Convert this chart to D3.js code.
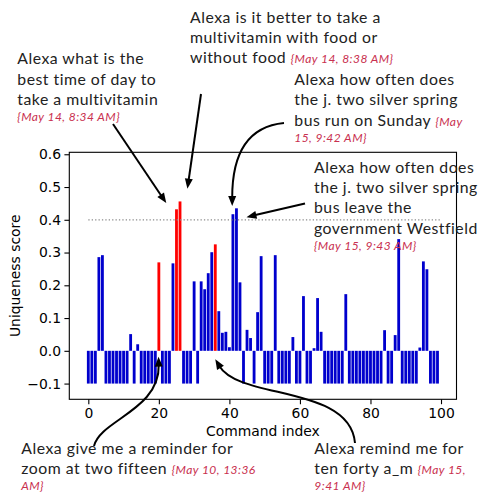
<!DOCTYPE html>
<html>
<head>
<meta charset="utf-8">
<script src="https://cdn.jsdelivr.net/npm/d3@7"></script>
<style>
  html, body { margin: 0; padding: 0; background: #fff; }
  svg { display: block; }
</style>
</head>
<body>
<svg id="chart" width="486" height="499"></svg>
<script>
// Uniqueness score of each voice command, in the order the commands were issued
const scores = [
  -0.1, -0.1, -0.1, 0.286, 0.292, -0.1, -0.1, -0.1, -0.1, -0.1,
  -0.1, -0.1, 0.051, -0.1, 0.020, -0.1, -0.1, -0.1, -0.1, -0.1,
  0.270, -0.1, -0.1, -0.1, 0.267, 0.432, 0.456, -0.1, -0.1, -0.1,
  0.212, -0.1, 0.212, 0.188, 0.237, 0.301, 0.325, 0.121, 0.055, 0.058,
  0.011, 0.417, 0.435, 0.209, -0.1, 0.064, 0.039, -0.1, 0.118, 0.289,
  -0.1, -0.1, -0.1, 0.292, -0.1, -0.1, -0.1, -0.1, 0.042, -0.1,
  -0.1, 0.167, -0.1, -0.1, 0.008, 0.161, 0.058, -0.1, -0.1, -0.1,
  -0.1, -0.1, -0.1, 0.173, -0.1, -0.1, -0.1, -0.1, -0.1, -0.1,
  -0.1, -0.1, -0.1, -0.1, 0.063, -0.1, -0.1, 0.048, 0.341, -0.1,
  -0.1, -0.1, -0.1, -0.1, 0.010, 0.273, 0.249, -0.1, -0.1, -0.1
];
// Commands singled out in red
const highlighted = [20, 25, 26, 36];
const threshold = 0.4;

const xTickValues = [0, 20, 40, 60, 80, 100];
const yTickValues = [-0.1, 0.0, 0.1, 0.2, 0.3, 0.4, 0.5, 0.6];
const xLabel = "Command index";
const yLabel = "Uniqueness score";

// Annotation texts: each line is [command text, timestamp]
const noteLines = [
  [["Alexa what is the", ""], ["best time of day to", ""], ["take a multivitamin", ""], ["", "{May 14, 8:34 AM}"]],
  [["Alexa is it better to take a", ""], ["multivitamin with food or", ""], ["without food ", "{May 14, 8:38 AM}"]],
  [["Alexa how often does", ""], ["the j. two silver spring", ""], ["bus run on Sunday ", "{May"], ["", "15, 9:42 AM}"]],
  [["Alexa how often does", ""], ["the j. two silver spring", ""], ["bus leave the", ""], ["government Westfield", ""], ["", "{May 15, 9:43 AM}"]],
  [["Alexa give me a reminder for", ""], ["zoom at two fifteen ", "{May 10, 13:36"], ["", "AM}"]],
  [["Alexa remind me for", ""], ["ten forty a_m ", "{May 15,"], ["", "9:41 AM}"]]
];
// Points (command index, score) each arrow points at
const noteTargets = [
  [22.1, 0.451], [28.1, 0.495], [40.8, 0.442], [44.85, 0.408], [19.9, -0.018], [36.0, -0.026]
];

// ---- layout ----
const box = { left: 69.3, right: 456.5, top: 152.3, bottom: 399.3 };
const noteAnchors = [
  { x: 17.3, y: 64.3 }, { x: 190, y: 22.7 }, { x: 294.3, y: 85 },
  { x: 314, y: 172.7 }, { x: 21.3, y: 454 }, { x: 314.3, y: 454 }
];
// Where each arrow leaves its text, and its bend (control points, px)
const arrowPaths = [
  { from: [113, 124], ctrl: [] },
  { from: [201, 94], ctrl: [] },
  { from: [284, 123], ctrl: [[232, 128]] },
  { from: [305, 203.5], ctrl: [] },
  { from: [94, 446], ctrl: [[100, 420], [160, 410]] },
  { from: [355, 443], ctrl: [[350, 385], [240, 400]] }
];

const blue = "#0000cd", red = "#ff0000", stampColor = "#c9304f";
const tickFont = "'DejaVu Sans', sans-serif";
const noteFont = "Lato, 'Noto Sans', sans-serif";

const svg = d3.select("#chart");

const n = scores.length;
const lo = -0.4, hi = n - 1 + 0.4, pad = 0.05 * (hi - lo);
const x = d3.scaleLinear().domain([lo - pad, hi + pad]).range([box.left, box.right]);
const y = d3.scaleLinear().domain([-0.148, 0.606]).range([box.bottom, box.top]);

// bars
svg.append("g").selectAll("rect")
  .data(scores.map((v, i) => ({ i, v })))
  .join("rect")
  .attr("x", d => x(d.i - 0.4))
  .attr("width", d => x(d.i + 0.4) - x(d.i - 0.4))
  .attr("y", d => y(Math.max(0, d.v)))
  .attr("height", d => Math.abs(y(d.v) - y(0)))
  .attr("fill", d => highlighted.includes(d.i) ? red : blue);

// threshold line
svg.append("line")
  .attr("x1", x(0)).attr("x2", x(100))
  .attr("y1", y(threshold)).attr("y2", y(threshold))
  .attr("stroke", "#8c8c8c").attr("stroke-width", 1.3)
  .attr("stroke-dasharray", "1.3,2.1");

// axes
const fmt = d3.format(".1f");
const gx = svg.append("g").attr("transform", `translate(0,${box.bottom})`)
  .call(d3.axisBottom(x).tickValues(xTickValues).tickFormat(d3.format("d")).tickSize(4.9).tickPadding(4));
const gy = svg.append("g").attr("transform", `translate(${box.left},0)`)
  .call(d3.axisLeft(y).tickValues(yTickValues).tickFormat(fmt).tickSize(4.9).tickPadding(3.4));
[gx, gy].forEach(g => {
  g.select(".domain").remove();
  g.selectAll(".tick line").attr("stroke", "#000").attr("stroke-width", 1.1);
  g.selectAll(".tick text").attr("fill", "#000").style("font-family", tickFont).style("font-size", "13.9px");
});

// frame
svg.append("rect")
  .attr("x", box.left).attr("y", box.top)
  .attr("width", box.right - box.left).attr("height", box.bottom - box.top)
  .attr("fill", "none").attr("stroke", "#000").attr("stroke-width", 1.1);

// axis titles
svg.append("text")
  .attr("x", (box.left + box.right) / 2).attr("y", 435.5)
  .attr("text-anchor", "middle")
  .style("font-family", tickFont).style("font-size", "13.9px")
  .text(xLabel);
svg.append("text")
  .attr("transform", `translate(20,${(box.top + box.bottom) / 2}) rotate(-90)`)
  .attr("text-anchor", "middle")
  .style("font-family", tickFont).style("font-size", "13.9px")
  .text(yLabel);

// annotation texts
noteLines.forEach((lines, k) => {
  const a = noteAnchors[k];
  let base = a.y;
  lines.forEach((ln, j) => {
    if (j > 0) base += ln[0] === "" ? 16 : 20.3;
    const t = svg.append("text").attr("x", a.x).attr("y", base)
      .style("font-family", noteFont);
    if (ln[0]) t.append("tspan").attr("fill", "#222")
      .style("font-size", "15.8px").style("letter-spacing", "0.5px").text(ln[0]);
    if (ln[1]) t.append("tspan").attr("fill", stampColor)
      .style("font-size", "12px").style("letter-spacing", "0.45px")
      .style("font-style", "italic").text(ln[1]);
  });
});

// arrows
const headLen = 10, headHalf = 4;
arrowPaths.forEach((p, k) => {
  const tip = [x(noteTargets[k][0]), y(noteTargets[k][1])];
  const prev = p.ctrl.length ? p.ctrl[p.ctrl.length - 1] : p.from;
  const dx = tip[0] - prev[0], dy = tip[1] - prev[1];
  const len = Math.hypot(dx, dy), ux = dx / len, uy = dy / len;
  const end = [tip[0] - ux * headLen * 0.8, tip[1] - uy * headLen * 0.8];
  const path = d3.path();
  path.moveTo(p.from[0], p.from[1]);
  if (p.ctrl.length === 0) path.lineTo(end[0], end[1]);
  else if (p.ctrl.length === 1) path.quadraticCurveTo(p.ctrl[0][0], p.ctrl[0][1], end[0], end[1]);
  else path.bezierCurveTo(p.ctrl[0][0], p.ctrl[0][1], p.ctrl[1][0], p.ctrl[1][1], end[0], end[1]);
  svg.append("path").attr("d", path.toString())
    .attr("fill", "none").attr("stroke", "#000").attr("stroke-width", 2);
  const bx = tip[0] - ux * headLen, by = tip[1] - uy * headLen;
  svg.append("path")
    .attr("d", `M${tip[0]},${tip[1]}L${bx - uy * headHalf},${by + ux * headHalf}L${bx + uy * headHalf},${by - ux * headHalf}Z`)
    .attr("fill", "#000");
});
</script>
</body>
</html>
